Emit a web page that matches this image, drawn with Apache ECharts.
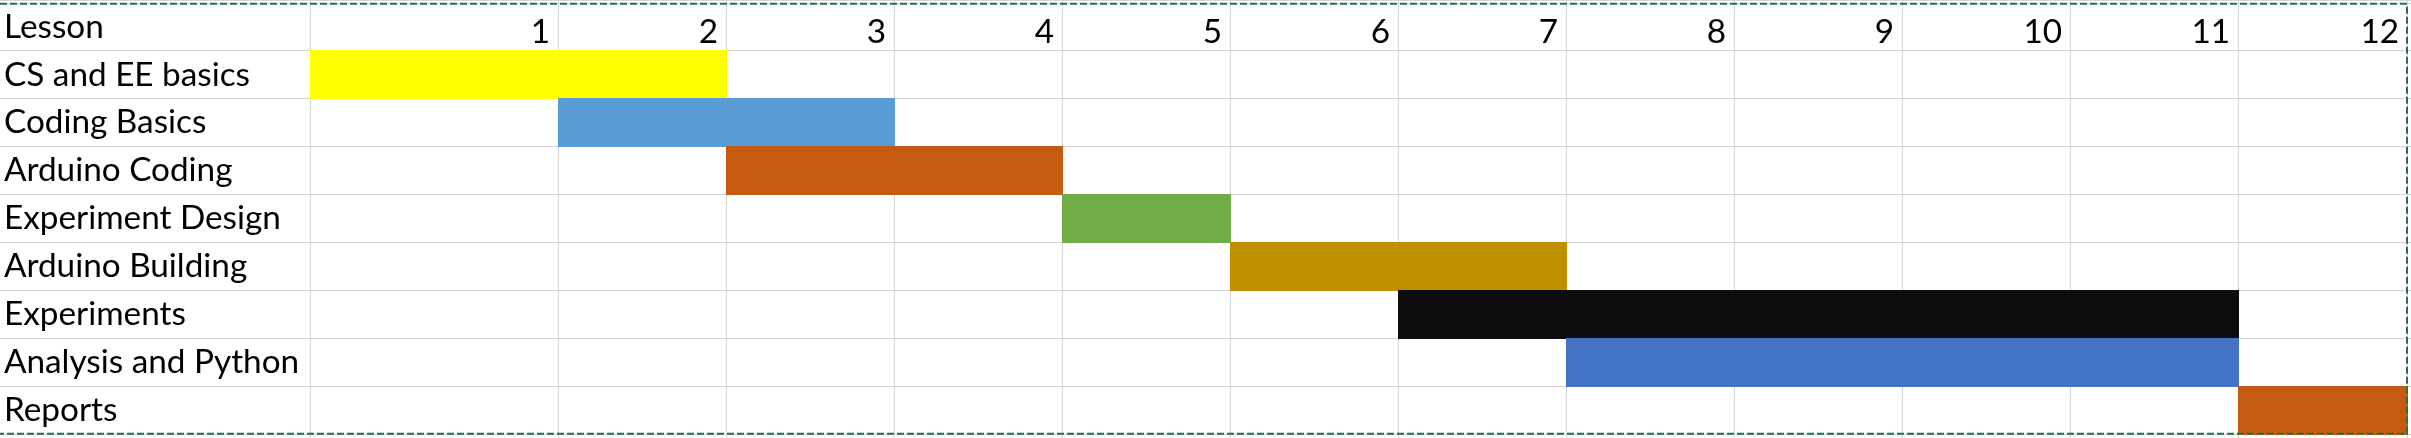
<!DOCTYPE html>
<html><head><meta charset="utf-8">
<script src="https://cdn.jsdelivr.net/npm/echarts@6/dist/echarts.min.js"></script>
<style>html,body{margin:0;padding:0;background:#fff;overflow:hidden}#c{width:2411px;height:438px}</style>
</head><body><div id="c"></div>
<script>
// ---- data ----
const headerLabel = 'Lesson';
const lessons = [1, 2, 3, 4, 5, 6, 7, 8, 9, 10, 11, 12];
const tasks = ['CS and EE basics', 'Coding Basics', 'Arduino Coding', 'Experiment Design',
  'Arduino Building', 'Experiments', 'Analysis and Python', 'Reports'];
const startLesson = [1, 2, 3, 5, 6, 7, 8, 12];
const endLesson = [2, 3, 4, 5, 7, 11, 11, 12];
const taskColors = ['#FFFF00', '#5B9BD5', '#C55A11', '#70AD47', '#BF8F00', '#0D0D0D', '#4472C4', '#C55A11'];

// ---- layout ----
const W = 2411, H = 438;
const FONT = 'Lato';
const LABEL_COL = 310;
const FIRST_COL = 248;
const GRID_RIGHT = 4, GRID_TOP = 3, GRID_BOTTOM = 4;
const unitPx = (W - GRID_RIGHT - LABEL_COL - FIRST_COL) / (lessons.length - 1);
const XMIN = 1 - FIRST_COL / unitPx;
const XMAX = lessons[lessons.length - 1];
const leftEdge = l => (l === lessons[0] ? XMIN : l - 1);
const GRID_COLOR = '#d4d4d4';

const mctx = document.createElement('canvas').getContext('2d');
mctx.font = '100px ' + FONT;
const FS = Math.round(100 * 295 / mctx.measureText('Analysis and Python').width * 10) / 10;

const rowCats = [headerLabel].concat(tasks);
const TEXT_DY = 5;

const chart = echarts.init(document.getElementById('c'), null, { renderer: 'canvas' });
chart.setOption({
  backgroundColor: '#ffffff',
  animation: false,
  grid: { left: LABEL_COL, right: GRID_RIGHT, top: GRID_TOP, bottom: GRID_BOTTOM, containLabel: false },
  xAxis: { type: 'value', min: XMIN, max: XMAX, show: false },
  yAxis: {
    type: 'category', data: rowCats, inverse: true,
    axisLine: { show: false }, axisTick: { show: false }, splitLine: { show: false },
    axisLabel: {
      interval: 0, align: 'left', margin: LABEL_COL - 4, color: '#000',
      fontFamily: FONT, fontSize: FS, padding: [TEXT_DY * 2, 0, 0, 0]
    }
  },
  series: [
    { // horizontal gridlines across whole sheet
      type: 'custom', silent: true, z: 1, clip: false,
      data: rowCats.map((c, i) => [XMIN, i]),
      renderItem(params, api) {
        const c = api.coord([api.value(0), api.value(1)]);
        const h = api.size([0, 1])[1];
        const ys = [c[1] - h / 2];
        if (params.dataIndex === rowCats.length - 1) ys.push(c[1] + h / 2);
        if (params.dataIndex === 0) ys.push(0.5);
        return { type: 'group', children: ys.map(y => ({
          type: 'line', shape: { x1: 0, y1: Math.floor(y) + 0.5, x2: api.getWidth(), y2: Math.floor(y) + 0.5 },
          style: { stroke: GRID_COLOR, lineWidth: 1 }
        })) };
      }
    },
    { // vertical gridlines at lesson boundaries
      type: 'custom', silent: true, z: 1, clip: false,
      data: [[leftEdge(lessons[0]), 0]].concat(lessons.map(l => [l, 0])),
      renderItem(params, api) {
        const x = Math.floor(api.coord([api.value(0), 0])[0]) + 0.5;
        return { type: 'line', shape: { x1: x, y1: 0, x2: x, y2: api.getHeight() },
          style: { stroke: GRID_COLOR, lineWidth: 1 } };
      }
    },
    { // task bars
      type: 'custom', z: 2, clip: false,
      data: tasks.map((t, i) => [startLesson[i], endLesson[i], i + 1]),
      renderItem(params, api) {
        const row = api.value(2);
        const a = api.coord([leftEdge(api.value(0)), row]);
        const b = api.coord([api.value(1), row]);
        const h = api.size([0, 1])[1];
        const x0 = Math.floor(a[0]), x1 = Math.floor(b[0]) + 1;
        const y0 = Math.floor(a[1] - h / 2), y1 = Math.floor(a[1] + h / 2) + 1;
        return { type: 'rect', shape: { x: x0, y: y0, width: x1 - x0, height: y1 - y0 },
          style: { fill: taskColors[params.dataIndex] } };
      }
    },
    { // header lesson numbers
      type: 'custom', z: 3, clip: false, silent: true,
      data: lessons.map(l => [l, 0]),
      renderItem(params, api) {
        const c = api.coord([api.value(0), api.value(1)]);
        return { type: 'text', style: {
          x: Math.floor(c[0]) - 8, y: c[1] + TEXT_DY, text: String(api.value(0)),
          align: 'right', verticalAlign: 'middle', fill: '#000',
          font: FS + 'px ' + FONT
        } };
      }
    }
  ],
  graphic: [{
    type: 'rect', z: 100, silent: true,
    shape: { x: -10, y: 3.7, width: 2407 + 10, height: 430 },
    style: { fill: 'none', stroke: '#217346', lineWidth: 2, lineDash: [7, 3] }
  }]
});
</script></body></html>
